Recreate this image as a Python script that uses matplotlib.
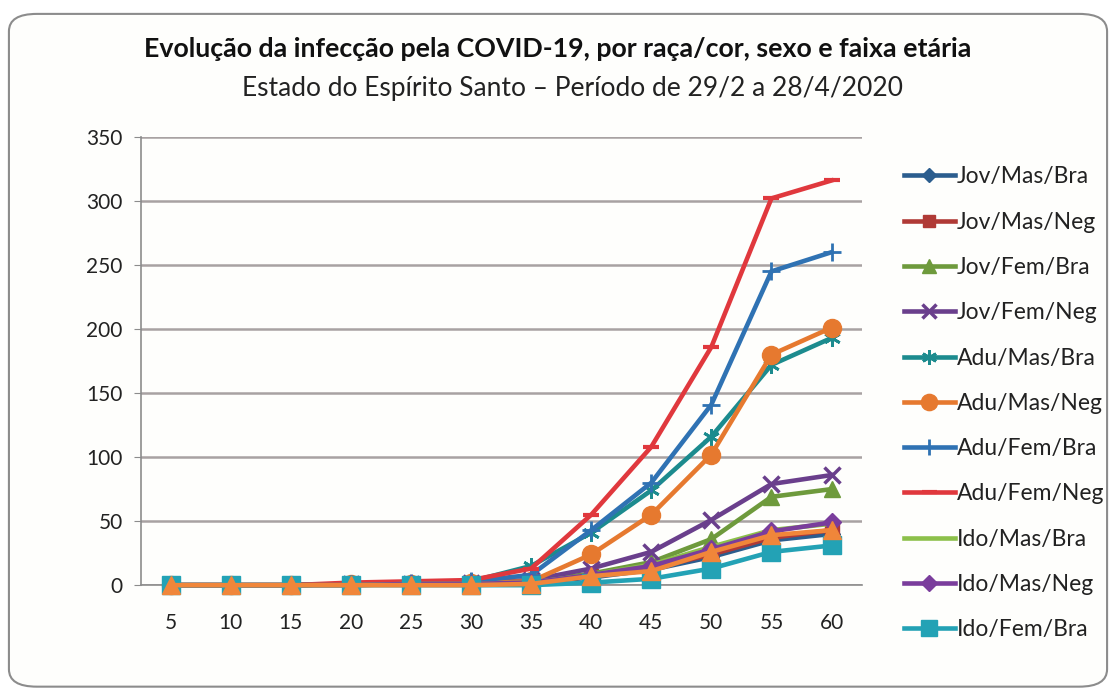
import matplotlib
matplotlib.use("Agg")
import matplotlib.pyplot as plt
from matplotlib.patches import FancyBboxPatch

plt.rcParams['font.family'] = ['Lato', 'DejaVu Sans']

periods = [5, 10, 15, 20, 25, 30, 35, 40, 45, 50, 55, 60]

jov_mas_bra = [0, 0, 0, 1, 1, 1, 2, 6, 12, 22, 35, 40]
jov_mas_neg = [0, 0, 0, 1, 1, 1, 2, 7, 13, 24, 37, 43]
jov_fem_bra = [0, 0, 0, 1, 1, 2, 3, 9, 18, 36, 69, 75]
jov_fem_neg = [0, 0, 0, 1, 1, 2, 4, 13, 26, 51, 79, 86]
adu_mas_bra = [0, 0, 0, 1, 2, 3, 15, 41, 74, 116, 172, 193]
adu_mas_neg = [0, 0, 0, 1, 1, 2, 3, 24, 55, 102, 180, 201]
adu_fem_bra = [0, 0, 0, 1, 2, 3, 8, 43, 80, 141, 245, 260]
adu_fem_neg = [0, 0, 0, 2, 3, 4, 13, 55, 108, 186, 302, 316]
ido_mas_bra = [0, 0, 0, 0, 1, 1, 2, 8, 16, 30, 43, 48]
ido_mas_neg = [0, 0, 0, 0, 1, 1, 2, 8, 15, 28, 42, 49]
ido_fem_bra = [0, 0, 0, 0, 0, 0, 0, 2, 5, 13, 26, 31]
ido_fem_neg = [0, 0, 0, 0, 0, 0, 1, 7, 11, 26, 39, 43]

series_names = ["Jov/Mas/Bra", "Jov/Mas/Neg", "Jov/Fem/Bra", "Jov/Fem/Neg",
                "Adu/Mas/Bra", "Adu/Mas/Neg", "Adu/Fem/Bra", "Adu/Fem/Neg",
                "Ido/Mas/Bra", "Ido/Mas/Neg", "Ido/Fem/Bra", "Ido/Fem/Neg"]
series_values = [jov_mas_bra, jov_mas_neg, jov_fem_bra, jov_fem_neg,
                 adu_mas_bra, adu_mas_neg, adu_fem_bra, adu_fem_neg,
                 ido_mas_bra, ido_mas_neg, ido_fem_bra, ido_fem_neg]
y_ticks = [0, 50, 100, 150, 200, 250, 300, 350]

styles = [
    dict(color="#2B5D8E", marker="D", ms=8),
    dict(color="#B03A36", marker="s", ms=10),
    dict(color="#6E9A3C", marker="^", ms=11),
    dict(color="#6A3F8C", marker="x", ms=11, mew=2.5),
    dict(color="#1C8B8E", marker=(6, 2, 0), ms=12, mew=2),
    dict(color="#E6792F", marker="o", ms=13),
    dict(color="#2F72B3", marker="+", ms=13, mew=2),
    dict(color="#E0383D", marker="_", ms=12, mew=3),
    dict(color="#8CC04A", marker=None, ms=0),
    dict(color="#7A3D9C", marker="D", ms=9),
    dict(color="#23A2B5", marker="s", ms=13.5),
    dict(color="#F0863A", marker="^", ms=13),
]

fig = plt.figure(figsize=(11.16, 6.95), dpi=100)
fig.patch.set_facecolor("white")
border = FancyBboxPatch((0.008, 0.012), 0.984, 0.968,
                        boxstyle="round,pad=0,rounding_size=0.025",
                        transform=fig.transFigure, facecolor="#FEFEFC",
                        edgecolor="#8C8C8C", linewidth=1.5, zorder=-10)
fig.patches.append(border)

ax = fig.add_axes([0.126, 0.158, 0.646, 0.645])
ax.set_facecolor("none")
ax.set_zorder(1)

handles = []
for name, vals, st in zip(series_names, series_values, styles):
    h, = ax.plot(periods, vals, color=st["color"], lw=3.3,
                 marker=st["marker"], markersize=st["ms"],
                 markeredgewidth=st.get("mew", 1.0),
                 markeredgecolor=st["color"], markerfacecolor=st["color"],
                 solid_joinstyle="miter", zorder=3, clip_on=False)
    handles.append(h)

ax.set_xlim(2.5, 62.5)
ax.set_ylim(0, 350)
ax.set_xticks(periods)
ax.set_xticklabels([str(p) for p in periods])
ax.set_yticks(y_ticks)
ax.grid(axis="y", color="#A8A2A2", lw=1.8, zorder=0)
ax.set_axisbelow(True)
for s in ["top", "right"]:
    ax.spines[s].set_visible(False)
ax.spines["left"].set_color("#8C8C8C")
ax.spines["bottom"].set_color("#8C8C8C")
ax.spines["left"].set_linewidth(1.2)
ax.spines["bottom"].set_linewidth(1.2)
ax.tick_params(axis="y", length=5, color="#8C8C8C", labelsize=15, pad=8,
               labelcolor="#222222")
ax.tick_params(axis="x", length=0, labelsize=15, pad=20, labelcolor="#222222")

leg = fig.legend(handles[:11], series_names[:11], loc="upper left",
                 bbox_to_anchor=(0.8, 0.777), frameon=False,
                 fontsize=16.5, handlelength=2.2, handletextpad=0.1,
                 labelspacing=1.06, borderpad=0, markerscale=0.9)
for t in leg.get_texts():
    t.set_color("#222222")

fig.text(0.5, 0.93, "Evolução da infecção pela COVID-19, por raça/cor, sexo e faixa etária",
         ha="center", va="center", fontsize=19.3, fontweight="bold", color="#111111")
fig.text(0.513, 0.873, "Estado do Espírito Santo \u2013 Período de 29/2 a 28/4/2020",
         ha="center", va="center", fontsize=19, color="#222222")

fig.savefig("out.png", dpi=100)
